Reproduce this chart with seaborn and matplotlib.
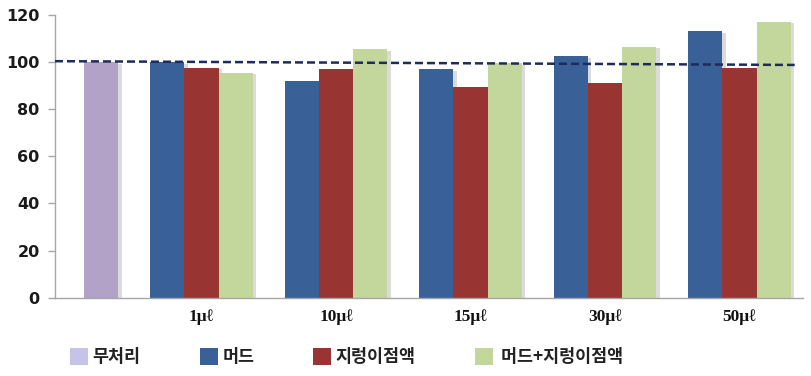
import matplotlib
matplotlib.use("Agg")
import matplotlib.pyplot as plt
import matplotlib.patheffects as pe
from matplotlib.patches import Patch
import pandas as pd
import seaborn as sns

# Doses on the category axis; the first slot holds the untreated control
categories = ["", "1μℓ", "10μℓ", "15μℓ", "30μℓ", "50μℓ"]
doses = ["1μℓ", "10μℓ", "15μℓ", "30μℓ", "50μℓ"]

control_name = "무처리"
control_value = 100

series = ["머드", "지렁이점액", "머드+지렁이점액"]
mud = [100, 92, 97, 102.5, 113]
mucus = [97.5, 97, 89.5, 91, 97.5]
mud_mucus = [95.5, 105.5, 99.5, 106.5, 117]

# Reference line drawn across the plot (start and end levels)
ref_start = 100.4
ref_end = 98.8

colors = {"머드": "#3a6098", "지렁이점액": "#983432", "머드+지렁이점액": "#c3d69b"}
control_color = "#b2a2c8"
control_legend_color = "#c6c3e9"

rows = []
for name, vals in zip(series, [mud, mucus, mud_mucus]):
    for d, v in zip(doses, vals):
        rows.append({"dose": d, "series": name, "value": v})
df = pd.DataFrame(rows)

# Control sits in the last dodge slot of the empty first category
slot_levels = ["_s1", "_s2", control_name]
ctrl_df = pd.DataFrame({"dose": [""], "series": [control_name], "value": [control_value]})

sns.set_style("white")
plt.rcParams["font.family"] = ["DejaVu Sans"]

fig = plt.figure(figsize=(8.12, 3.76), dpi=100)
ax = fig.add_axes([55 / 812, 1 - 297.7 / 376, (803 - 55) / 812, (297.7 - 15) / 376])

sns.barplot(data=df, x="dose", y="value", hue="series", order=categories,
            hue_order=series, palette=colors, width=0.76, saturation=1,
            dodge=True, legend=False, errorbar=None, ax=ax)
sns.barplot(data=ctrl_df, x="dose", y="value", hue="series", order=categories,
            hue_order=slot_levels,
            palette={"_s1": control_color, "_s2": control_color, control_name: control_color},
            width=0.76, saturation=1, dodge=True, legend=False, errorbar=None, ax=ax)

shadow = [pe.SimplePatchShadow(offset=(2.5, -1), shadow_rgbFace="#888888", alpha=0.3), pe.Normal()]
for p in ax.patches:
    p.set_edgecolor("none")
    p.set_path_effects(shadow)

xmin, xmax = -0.089, 5.472
ax.set_xlim(xmin, xmax)
ax.set_ylim(0, 120)
ax.set_yticks(range(0, 121, 20))

ax.plot([xmin, 5.41], [ref_start, ref_end], color="#1f2b5a", lw=1.8,
        linestyle=(0, (3.2, 1.6)), zorder=5)

ax.set_xlabel("")
ax.set_ylabel("")
for side in ["top", "right"]:
    ax.spines[side].set_visible(False)
for side in ["left", "bottom"]:
    ax.spines[side].set_color("#a6a6a6")
    ax.spines[side].set_linewidth(1.0)

ax.tick_params(axis="y", left=True, length=5, width=1, color="#a6a6a6", pad=6)
ax.tick_params(axis="x", bottom=False, length=0, pad=8)
for t in ax.get_yticklabels():
    t.set_fontfamily(["DejaVu Sans"])
    t.set_fontweight("bold")
    t.set_fontsize(11.5)
    t.set_color("#1a1a1a")
for t in ax.get_xticklabels():
    t.set_fontfamily(["Liberation Serif", "DejaVu Serif"])
    t.set_fontweight("bold")
    t.set_fontsize(12.5)
    t.set_color("#111111")

handles = [Patch(facecolor=control_legend_color, edgecolor="none")] + \
          [Patch(facecolor=colors[s], edgecolor="none") for s in series]
labels = [control_name] + series[:2] + [" " + series[2]]
fig.legend(handles, labels, loc="center left", bbox_to_anchor=(70 / 812, 1 - 357 / 376),
           ncol=4, frameon=False, borderpad=0, borderaxespad=0,
           handlelength=1.05, handleheight=1.1, handletextpad=0.25, columnspacing=3.4,
           prop={"family": ["Noto Sans CJK KR", "DejaVu Sans"], "weight": "bold", "size": 12.5},
           labelcolor="#222222")

fig.savefig("out.png", dpi=100, facecolor="white")
